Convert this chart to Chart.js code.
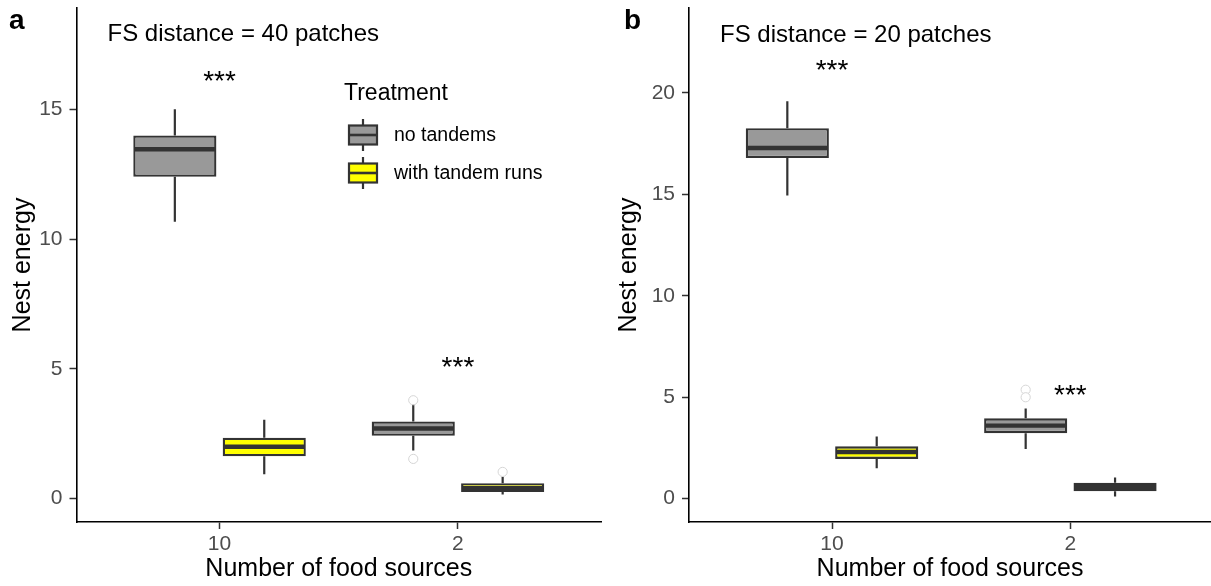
<!DOCTYPE html>
<html>
<head>
<meta charset="utf-8">
<script src="https://cdn.jsdelivr.net/npm/chart.js@4.4.1/dist/chart.umd.min.js"></script>
<style>
    body { margin: 0; background: #fff; }
    .panel { position: absolute; top: 0; height: 586px; }
    #wrapA { left: 0; width: 606px; }
    #wrapB { left: 606px; width: 605px; }
</style>
</head>
<body>
<div class="panel" id="wrapA"><canvas id="chartA" width="606" height="586"></canvas></div>
<div class="panel" id="wrapB"><canvas id="chartB" width="605" height="586"></canvas></div>
<script>
//-----------------------------------------------------------------------------
// data: each box is [lower whisker, q1, median, q3, upper whisker]
//-----------------------------------------------------------------------------
const foodSources = ["10", "2"];
const treatments  = ["no tandems", "with tandem runs"];

// FS distance = 40 patches
const noTandems40      = [[10.67, 12.40, 13.46, 13.99, 15.00], [1.85, 2.42, 2.70, 2.97, 3.65]];
const tandemRuns40     = [[0.94, 1.63, 2.00, 2.35, 3.04],      [0.16, 0.26, 0.40, 0.59, 0.84]];
const noTandemsOut40   = [[], [3.79, 1.53]];
const tandemRunsOut40  = [[], [1.03]];
const yTicks40         = [0, 5, 10, 15];

// FS distance = 20 patches
const noTandems20      = [[14.95, 16.79, 17.29, 18.26, 19.59], [2.45, 3.23, 3.60, 3.96, 4.45]];
const tandemRuns20     = [[1.50, 1.96, 2.30, 2.58, 3.06],      [0.11, 0.37, 0.58, 0.79, 1.04]];
const noTandemsOut20   = [[], [5.37, 5.00]];
const tandemRunsOut20  = [[], []];
const yTicks20         = [0, 5, 10, 15, 20];

// significance stars: [x position, y value]
const stars40 = [[1, 16], [2, 5]];
const stars20 = [[1, 21], [2, 5]];

const FONT = '"Liberation Sans", Arial, sans-serif';
const OUTLINE = "#333333";
const fills = ["#999999", "#FFFF00"];

Chart.defaults.font.family = FONT;

//-----------------------------------------------------------------------------
// whiskers go under the boxes, medians and outliers on top
//-----------------------------------------------------------------------------
const boxParts = {
    id: "boxParts",
    beforeDatasetsDraw(chart){
        const ctx = chart.ctx;
        const y = chart.scales.y;
        ctx.save();
        ctx.strokeStyle = OUTLINE;
        ctx.lineWidth = 2.2;
        chart.data.datasets.forEach((ds, d) => {
            chart.getDatasetMeta(d).data.forEach((bar, i) => {
                const s = ds.stats[i];
                ctx.beginPath();
                ctx.moveTo(bar.x, y.getPixelForValue(s[4]));
                ctx.lineTo(bar.x, y.getPixelForValue(s[3]));
                ctx.moveTo(bar.x, y.getPixelForValue(s[1]));
                ctx.lineTo(bar.x, y.getPixelForValue(s[0]));
                ctx.stroke();
            });
        });
        ctx.restore();
    },
    afterDatasetsDraw(chart){
        const ctx = chart.ctx;
        const y = chart.scales.y;
        ctx.save();
        chart.data.datasets.forEach((ds, d) => {
            chart.getDatasetMeta(d).data.forEach((bar, i) => {
                const s = ds.stats[i];
                const half = bar.width / 2;
                const ym = y.getPixelForValue(s[2]);
                ctx.strokeStyle = OUTLINE;
                ctx.lineWidth = 4.4;
                ctx.beginPath();
                ctx.moveTo(bar.x - half + 1, ym);
                ctx.lineTo(bar.x + half - 1, ym);
                ctx.stroke();
                ds.outliers[i].forEach(v => {
                    ctx.beginPath();
                    ctx.arc(bar.x, y.getPixelForValue(v), 4.6, 0, Math.PI * 2);
                    ctx.fillStyle = "#ffffff";
                    ctx.fill();
                    ctx.strokeStyle = "#d6d6d6";
                    ctx.lineWidth = 1;
                    ctx.stroke();
                });
            });
        });
        ctx.restore();
    }
};

//-----------------------------------------------------------------------------
// panel letter, distance label and significance stars
//-----------------------------------------------------------------------------
const annotations = {
    id: "annotations",
    afterDraw(chart, args, opts){
        const ctx = chart.ctx;
        const {x, y} = chart.scales;
        ctx.save();
        ctx.fillStyle = "#000";
        ctx.font = `bold 28px ${FONT}`;
        ctx.textAlign = "left";
        ctx.textBaseline = "alphabetic";
        ctx.fillText(opts.letter, opts.letterX, 29);

        // canvas "middle" sits a little above the glyph centre, nudge it down
        ctx.font = `24px ${FONT}`;
        ctx.textBaseline = "middle";
        ctx.fillText(opts.title, x.getPixelForValue(0.53), y.getPixelForValue(opts.titleY) + 3);

        ctx.font = `28px ${FONT}`;
        ctx.textAlign = "center";
        opts.stars.forEach(s => ctx.fillText("***", x.getPixelForValue(s[0]), y.getPixelForValue(s[1]) - 1));

        if (opts.legend){
            drawLegend(ctx);
        }
        ctx.restore();
    }
};

function drawLegend(ctx){
    ctx.textAlign = "left";
    ctx.textBaseline = "middle";
    ctx.fillStyle = "#000";
    ctx.font = `23px ${FONT}`;
    ctx.fillText("Treatment", 344, 94);

    const rows = [135, 173];
    treatments.forEach((name, i) => {
        const cy = rows[i];
        const cx = 363;
        ctx.strokeStyle = OUTLINE;
        ctx.lineWidth = 2.2;
        ctx.beginPath();
        ctx.moveTo(cx, cy - 16);
        ctx.lineTo(cx, cy + 16);
        ctx.stroke();
        ctx.fillStyle = fills[i];
        ctx.fillRect(cx - 14, cy - 9.5, 28, 19);
        ctx.strokeRect(cx - 14, cy - 9.5, 28, 19);
        ctx.lineWidth = 2.6;
        ctx.beginPath();
        ctx.moveTo(cx - 14, cy);
        ctx.lineTo(cx + 14, cy);
        ctx.stroke();
        ctx.fillStyle = "#000";
        ctx.font = `19.5px ${FONT}`;
        ctx.fillText(name, 394, cy + 1);
    });
}

//-----------------------------------------------------------------------------
// one boxplot panel
//-----------------------------------------------------------------------------
function makePanel(canvasId, setup){
    const datasets = [setup.noTandems, setup.tandemRuns].map((boxes, d) => ({
        label: treatments[d],
        data: boxes.map((b, i) => ({x: i + 1, y: [b[1], b[3]]})),
        stats: boxes,
        outliers: d === 0 ? setup.noTandemsOut : setup.tandemRunsOut,
        backgroundColor: fills[d],
        borderColor: OUTLINE,
        borderWidth: 2.3,
        borderSkipped: false,
        categoryPercentage: 0.75,
        barPercentage: 0.93
    }));

    const axisGrid = {
        display: true,
        offset: false,
        drawOnChartArea: false,
        drawTicks: true,
        tickLength: 7,
        tickColor: OUTLINE,
        tickWidth: 1.5
    };

    return new Chart(document.getElementById(canvasId), {
        type: "bar",
        data: {datasets},
        plugins: [boxParts, annotations],
        options: {
            responsive: false,
            animation: false,
            layout: {padding: {top: 8, right: setup.padRight, left: 0, bottom: 0}},
            plugins: {
                legend: {display: false},
                tooltip: {enabled: false},
                annotations: {
                    letter: setup.letter,
                    letterX: setup.letterX,
                    title: setup.title,
                    titleY: setup.titleY,
                    stars: setup.stars,
                    legend: setup.legend
                }
            },
            scales: {
                x: {
                    type: "linear",
                    min: 0.4,
                    max: setup.xMax,
                    offset: false,
                    grid: axisGrid,
                    border: {display: true, color: "#000", width: 1.6},
                    afterBuildTicks: axis => { axis.ticks = foodSources.map((_, i) => ({value: i + 1})); },
                    afterFit: scale => {
                        scale.height = 64;
                        scale.paddingLeft = 0;
                        scale.paddingRight = 0;
                    },
                    ticks: {
                        color: "#4d4d4d",
                        font: {size: 21},
                        padding: 3,
                        autoSkip: false,
                        maxRotation: 0,
                        callback: v => foodSources[v - 1]
                    },
                    title: {
                        display: true,
                        text: "Number of food sources",
                        color: "#000",
                        font: {size: 25, lineHeight: 1.2},
                        padding: {top: 0, bottom: 2}
                    }
                },
                y: {
                    type: "linear",
                    min: setup.yMin,
                    max: setup.yMax,
                    grid: axisGrid,
                    border: {display: true, color: "#000", width: 1.6},
                    afterBuildTicks: axis => { axis.ticks = setup.yTicks.map(v => ({value: v})); },
                    afterFit: scale => {
                        scale.width = setup.yWidth;
                        scale.paddingTop = 0;
                        scale.paddingBottom = 0;
                    },
                    ticks: {
                        color: "#4d4d4d",
                        font: {size: 21},
                        padding: 7
                    },
                    title: {
                        display: true,
                        text: "Nest energy",
                        color: "#000",
                        font: {size: 25, lineHeight: 1.2},
                        padding: {top: 8, bottom: 0}
                    }
                }
            }
        }
    });
}

makePanel("chartA", {
    noTandems: noTandems40, tandemRuns: tandemRuns40,
    noTandemsOut: noTandemsOut40, tandemRunsOut: tandemRunsOut40,
    yTicks: yTicks40, yMin: -0.9, yMax: 18.9, xMax: 2.6,
    yWidth: 76.5, padRight: 5,
    letter: "a", letterX: 9, title: "FS distance = 40 patches", titleY: 18,
    stars: stars40, legend: true
});

makePanel("chartB", {
    noTandems: noTandems20, tandemRuns: tandemRuns20,
    noTandemsOut: noTandemsOut20, tandemRunsOut: tandemRunsOut20,
    yTicks: yTicks20, yMin: -1.15, yMax: 24.19, xMax: 2.59,
    yWidth: 83, padRight: 0,
    letter: "b", letterX: 18, title: "FS distance = 20 patches", titleY: 23,
    stars: stars20, legend: false
});
</script>
</body>
</html>
